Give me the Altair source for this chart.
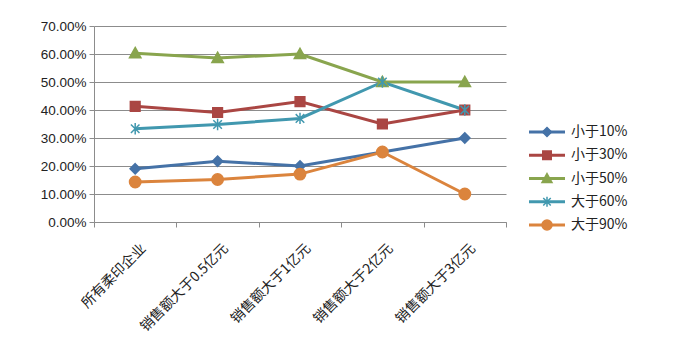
import altair as alt
import pandas as pd

categories = ["所有柔印企业", "销售额大于0.5亿元", "销售额大于1亿元", "销售额大于2亿元", "销售额大于3亿元"]
series = ["小于10%", "小于30%", "小于50%", "大于60%", "大于90%"]
v10 = [0.190, 0.217, 0.200, 0.250, 0.300]
v30 = [0.413, 0.391, 0.430, 0.350, 0.400]
v50 = [0.603, 0.586, 0.600, 0.500, 0.500]
v60 = [0.333, 0.348, 0.370, 0.500, 0.400]
v90 = [0.143, 0.152, 0.171, 0.250, 0.100]
y_ticks = [0, 0.1, 0.2, 0.3, 0.4, 0.5, 0.6, 0.7]

colors = ["#4572A7", "#AA4643", "#89A54E", "#4198AF", "#DB843D"]
shapes = [
    "M0,-0.9L0.9,0L0,0.9L-0.9,0Z",
    "M-0.85,-0.85H0.85V0.85H-0.85Z",
    "M0,-1L1,0.8H-1Z",
    "M-0.75,-0.75L0.75,0.75M-0.75,0.75L0.75,-0.75M0,-1V1",
    "circle",
]

rows = []
for s, vals in zip(series, [v10, v30, v50, v60, v90]):
    for c, v in zip(categories, vals):
        rows.append({"系列": s, "类别": c, "值": v})
df = pd.DataFrame(rows)
legdf = pd.DataFrame({"系列": series})

color_scale = alt.Scale(domain=series, range=colors)
shape_scale = alt.Scale(domain=series, range=shapes)
grey = "#8C8C8C"

base = alt.Chart(df).encode(
    x=alt.X(
        "类别:N",
        sort=categories,
        scale=alt.Scale(type="band", paddingInner=0, paddingOuter=0),
        axis=alt.Axis(
            title=None, labelAngle=-45, labelAlign="right", labelBaseline="middle",
            tickBand="extent", grid=False, domainColor=grey, tickColor=grey,
            tickSize=5, labelPadding=19, labelOffset=8, labelFont="Noto Sans CJK SC",
            labelFontSize=14, labelColor="#222222",
        ),
    ),
    y=alt.Y(
        "值:Q",
        scale=alt.Scale(domain=[0, 0.7], nice=False),
        axis=alt.Axis(
            title=None, format=".2%", values=y_ticks, grid=True, gridColor=grey,
            domainColor=grey, tickColor=grey, tickSize=5, labelPadding=3,
            labelFont="Liberation Sans", labelFontSize=13.5, labelColor="#222222",
        ),
    ),
    color=alt.Color("系列:N", sort=series, scale=color_scale, legend=None),
)

lines = base.mark_line(strokeWidth=3)
points = base.mark_point(filled=True, size=130, strokeWidth=1.5, opacity=1).encode(
    shape=alt.Shape("系列:N", sort=series, scale=shape_scale, legend=None),
    stroke=alt.Stroke("系列:N", sort=series, scale=color_scale, legend=None),
)
main = alt.layer(lines, points).properties(width=412, height=196)

leg_y = alt.Y("系列:N", sort=series,
              scale=alt.Scale(type="point", domain=series, range=[106, 199], padding=0),
              axis=None)
leg_color = alt.Color("系列:N", sort=series, scale=color_scale, legend=None)
leg_base = alt.Chart(legdf)
leg_rule = leg_base.mark_rule(strokeWidth=3).encode(
    y=leg_y, color=leg_color, x=alt.value(22), x2=alt.value(58)
)
leg_pt = leg_base.mark_point(filled=True, size=100, strokeWidth=1.5, opacity=1).encode(
    y=leg_y, color=leg_color, x=alt.value(40),
    shape=alt.Shape("系列:N", sort=series, scale=shape_scale, legend=None),
    stroke=alt.Stroke("系列:N", sort=series, scale=color_scale, legend=None),
)
leg_text = leg_base.mark_text(align="left", baseline="middle", fontSize=14,
                              font="Noto Sans CJK SC", color="#222222").encode(
    y=leg_y, x=alt.value(64), text="系列:N"
)
legend = alt.layer(leg_rule, leg_pt, leg_text).properties(width=140, height=196)

chart = alt.hconcat(main, legend, spacing=0).properties(
    padding={"left": 32, "top": 11, "right": 5, "bottom": 5},
    background="white",
).configure_view(strokeWidth=0, stroke="transparent")

chart.save("out.html", embed_options={"renderer": "svg", "actions": False})
